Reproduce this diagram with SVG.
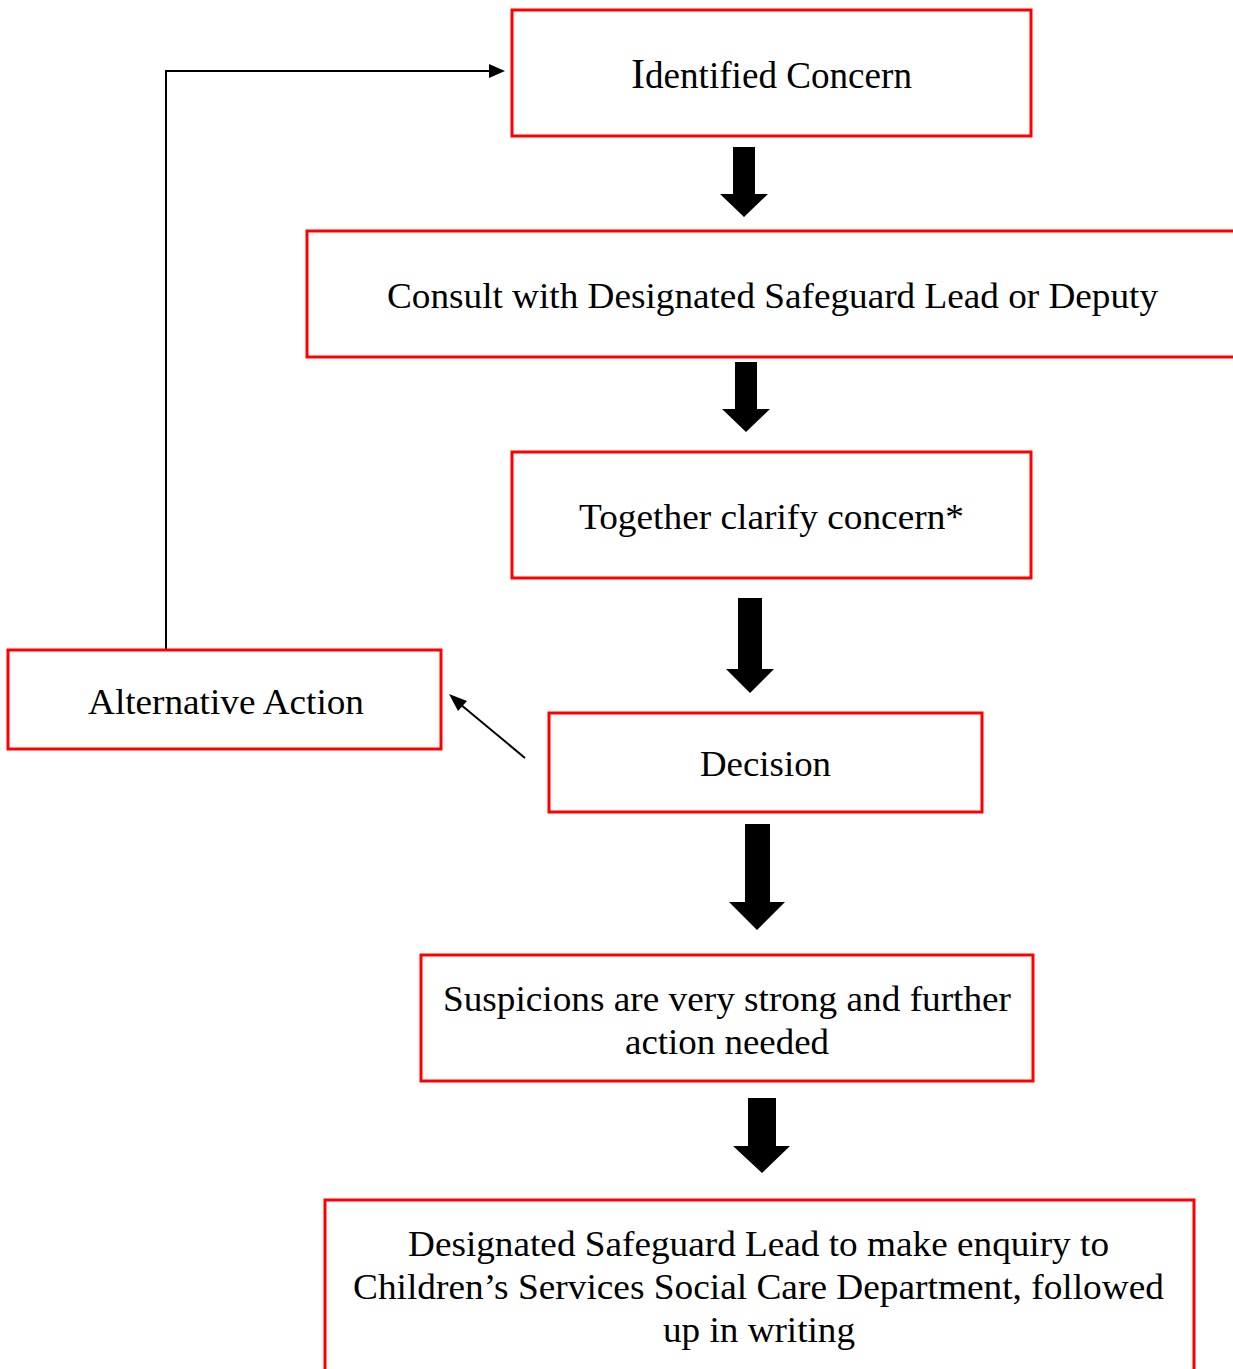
<svg xmlns="http://www.w3.org/2000/svg" width="1233" height="1369" viewBox="0 0 1233 1369">
<style>
.box{fill:#fff;stroke:#ff0000;stroke-width:3}
.t{font-family:"Liberation Serif","Times New Roman",serif;font-size:36px;fill:#000;text-anchor:middle}
.blk{fill:#000}
.ln{fill:none;stroke:#000;stroke-width:2}
</style>
<rect width="1233" height="1369" fill="#fff"/>
<g id="connectors">
<path class="blk" d="M733,147 H755 V194 H768 L744,217 L720,194 H733 Z"/>
<path class="blk" d="M735,362 H757 V409 H770 L746,432 L722,409 H735 Z"/>
<path class="blk" d="M738,598 H762 V669 H774 L750,693 L726,669 H738 Z"/>
<path class="blk" d="M745,824 H770 V902 H785 L757,930 L729,902 H745 Z"/>
<path class="blk" d="M748,1098 H776 V1146 H790 L762,1173 L733,1146 H748 Z"/>
<path class="ln" d="M166,650 V71 H490"/>
<path d="M489,64 L505,71 L489,78 Z" fill="#000"/>
<line x1="525" y1="758" x2="460" y2="704" stroke="#000" stroke-width="2"/>
<path d="M449,694 L467,701 L458,711 Z" fill="#000"/>
</g>
<g id="n1"><rect class="box" x="512" y="10" width="519" height="126"/><text class="t" x="771.5" y="88" style="font-size:37px" textLength="281" lengthAdjust="spacingAndGlyphs"><tspan style="font-size:42px">I</tspan>dentified Concern</text></g>
<g id="n2"><rect class="box" x="307" y="231" width="940" height="126"/><text class="t" x="772.5" y="308" textLength="771" lengthAdjust="spacingAndGlyphs">Consult with Designated Safeguard Lead or Deputy</text></g>
<g id="n3"><rect class="box" x="512" y="452" width="519" height="126"/><text class="t" x="771.5" y="529" textLength="385" lengthAdjust="spacingAndGlyphs">Together clarify concern*</text></g>
<g id="n4"><rect class="box" x="549" y="713" width="433" height="99"/><text class="t" x="765.5" y="776" textLength="131" lengthAdjust="spacingAndGlyphs">Decision</text></g>
<g id="n5"><rect class="box" x="8" y="650" width="433" height="99"/><text class="t" x="226" y="714" textLength="276" lengthAdjust="spacingAndGlyphs">Alternative Action</text></g>
<g id="n6"><rect class="box" x="421" y="955" width="612" height="126"/><text class="t" x="727" y="1011" textLength="568" lengthAdjust="spacingAndGlyphs">Suspicions are very strong and further</text><text class="t" x="727" y="1054" textLength="204" lengthAdjust="spacingAndGlyphs">action needed</text></g>
<g id="n7"><rect class="box" x="325" y="1200" width="869" height="190"/><text class="t" x="758.5" y="1256" textLength="701" lengthAdjust="spacingAndGlyphs">Designated Safeguard Lead to make enquiry to</text><text class="t" x="758.5" y="1299" textLength="811" lengthAdjust="spacingAndGlyphs">Children’s Services Social Care Department, followed</text><text class="t" x="759" y="1342" textLength="192" lengthAdjust="spacingAndGlyphs">up in writing</text></g>
</svg>
